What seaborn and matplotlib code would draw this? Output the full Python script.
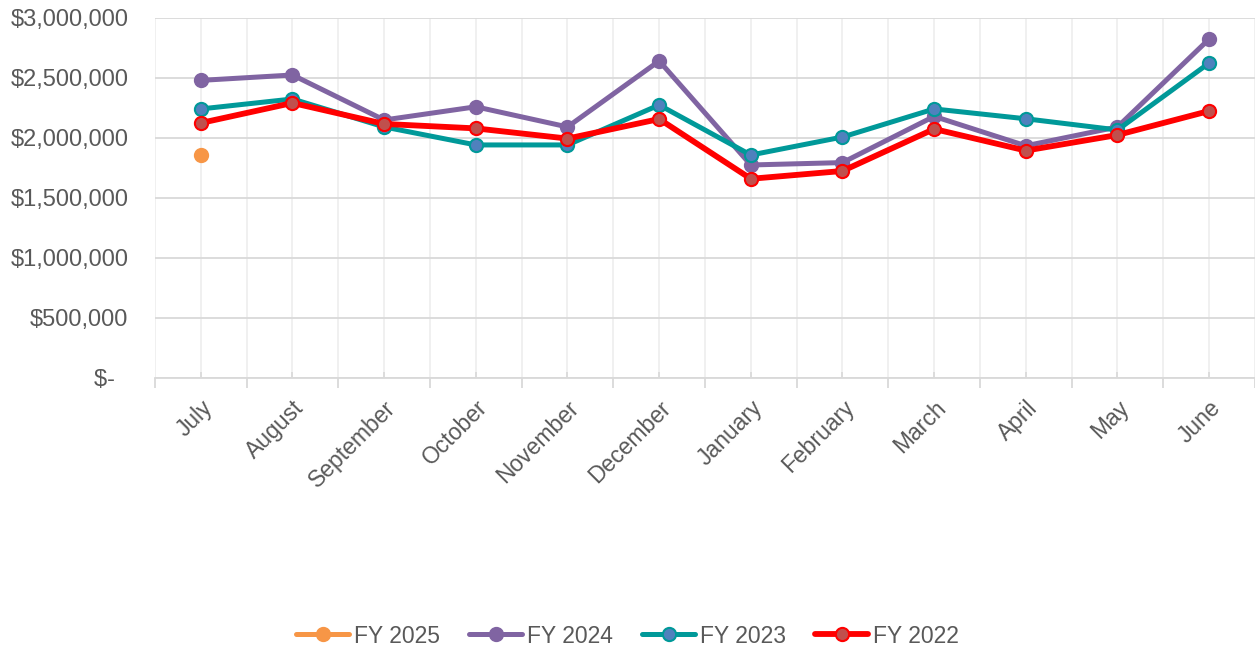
import matplotlib
matplotlib.use('Agg')
import matplotlib.pyplot as plt
from matplotlib.lines import Line2D
from matplotlib.ticker import FuncFormatter, FixedLocator
import pandas as pd
import numpy as np
import seaborn as sns

months = ['July', 'August', 'September', 'October', 'November', 'December',
          'January', 'February', 'March', 'April', 'May', 'June']

fy2025 = [1855000]
fy2024 = [2480000, 2525000, 2150000, 2260000, 2092000, 2642000,
          1775000, 1795000, 2180000, 1935000, 2092000, 2825000]
fy2023 = [2242000, 2325000, 2092000, 1942000, 1942000, 2275000,
          1858000, 2008000, 2242000, 2160000, 2067000, 2625000]
fy2022 = [2125000, 2292000, 2117000, 2080000, 1995000, 2158000,
          1660000, 1725000, 2075000, 1895000, 2025000, 2225000]

series = ['FY 2025', 'FY 2024', 'FY 2023', 'FY 2022']
values = [fy2025, fy2024, fy2023, fy2022]
line_colors = ['#F79646', '#8064A2', '#009999', '#FF0000']
face_colors = ['#F79646', '#8064A2', '#4F81BD', '#C0504D']
line_widths = [3.6, 3.6, 3.6, 4.2]

rows = []
for name, vals in zip(series, values):
    for i, v in enumerate(vals):
        rows.append({'series': name, 'idx': i, 'month': months[i], 'value': v})
df = pd.DataFrame(rows)

sns.set_theme(style='white')
plt.rcParams['font.family'] = ['Liberation Sans', 'DejaVu Sans']
text_color = '#595959'

fig = plt.figure(figsize=(12.55, 6.47), dpi=100)
ax = fig.add_axes([0.1235, 0.4158, 0.8765, 0.5564])

# oldest year drawn last, so it sits on top like the reference
for name, lc, fc, lw in zip(series, line_colors, face_colors, line_widths):
    sub = df[df['series'] == name]
    sns.lineplot(data=sub, x='idx', y='value', ax=ax, color=lc, linewidth=lw,
                 marker='o', markersize=9.5, markerfacecolor=fc, markeredgecolor=lc,
                 markeredgewidth=1.5, legend=False, zorder=3)

ax.set_xlim(-0.5, 11.5)
ax.set_ylim(0, 3000000)
ax.set_yticks(np.arange(0, 3000001, 500000))

def money(v, pos):
    if v == 0:
        return '$-  '
    return '${:,.0f}'.format(v)

ax.yaxis.set_major_formatter(FuncFormatter(money))
ax.set_xticks(range(len(months)))
ax.set_xticklabels(months, rotation=45, ha='right', rotation_mode='anchor')
ax.xaxis.set_minor_locator(FixedLocator(np.arange(-0.5, 12, 1)))

ax.set_xlabel('')
ax.set_ylabel('')

ax.grid(axis='y', which='major', color='#D9D9D9', linewidth=1.3)
ax.grid(axis='x', which='both', color='#EFEFEF', linewidth=1.3)
ax.set_axisbelow(True)
for s in ['left', 'right', 'top']:
    ax.spines[s].set_visible(False)
ax.spines['bottom'].set_color('#D9D9D9')
ax.spines['bottom'].set_linewidth(1.3)

ax.tick_params(axis='y', labelsize=17, colors=text_color, length=0, pad=19)
ax.tick_params(axis='x', which='major', labelsize=16.5, labelcolor=text_color,
               direction='in', length=4, color='#D9D9D9', pad=13, bottom=True)
ax.tick_params(axis='x', which='minor', direction='out', length=7,
               color='#D9D9D9', width=1.3, bottom=True)

handles = [Line2D([0], [0], color=lc, linewidth=lw, marker='o', markersize=9.5,
                  markerfacecolor=fc, markeredgecolor=lc, markeredgewidth=1.5)
           for lc, fc, lw in zip(line_colors, face_colors, line_widths)]
leg = fig.legend(handles, series, loc='center', bbox_to_anchor=(0.5, 0.017),
                 ncol=4, frameon=False, fontsize=16.5, handlelength=2.3,
                 handletextpad=0.2, columnspacing=1.3)
for t in leg.get_texts():
    t.set_color(text_color)

fig.savefig('out.png', dpi=100)
